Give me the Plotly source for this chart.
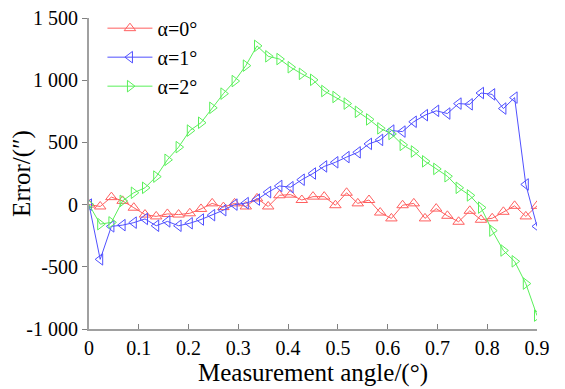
import plotly.graph_objects as go

x_vals = [round(i * 0.0225, 4) for i in range(41)]

err_a0 = [0, -15, 60, 30, -25, -80, -95, -75, -80, -70, -35, 10, -20, 10, -15, 50, -15, 75, 80, 37,
          64, 64, -5, 95, 10, 37, -64, -111, -5, 10, -111, -32, -90, -138, -50, -122, -110, -58, -10, -95, -10]
err_a1 = [0, -440, -175, -165, -145, -115, -170, -135, -170, -150, -120, -85, -45, 0, 12, 40, 100, 150, 140, 200,
          250, 307, 340, 382, 420, 488, 520, 595, 587, 666, 719, 754, 732, 812, 806, 897, 886, 772, 860, 162, -175]
err_a2 = [0, -157, -143, 30, 95, 135, 225, 360, 462, 595, 658, 778, 892, 993, 1117, 1276, 1192, 1170, 1104, 1051,
          1003, 913, 865, 812, 746, 685, 613, 568, 480, 427, 348, 287, 228, 135, 74, -24, -209, -369, -456, -635, -892]

names = ["α=0°", "α=1°", "α=2°"]
colors = ["rgb(255,95,95)", "rgb(80,80,255)", "rgb(90,240,90)"]
symbols = ["triangle-up-open", "triangle-left-open", "triangle-right-open"]

y_tickvals = [-1000, -500, 0, 500, 1000, 1500]
y_ticktext = ["-1 000", "-500", "0", "500", "1 000", "1 500"]
x_tickvals = [0, 0.1, 0.2, 0.3, 0.4, 0.5, 0.6, 0.7, 0.8, 0.9]
x_ticktext = ["0", "0.1", "0.2", "0.3", "0.4", "0.5", "0.6", "0.7", "0.8", "0.9"]

fig = go.Figure()
for name, ys, c, s in zip(names, [err_a0, err_a1, err_a2], colors, symbols):
    fig.add_trace(go.Scatter(
        x=x_vals, y=ys, name=name, mode="lines+markers",
        line=dict(color=c, width=1),
        marker=dict(symbol=s, size=10, color=c, line=dict(color=c, width=1)),
    ))

font_family = "Liberation Serif, Times New Roman, serif"
fig.update_layout(
    width=565, height=389,
    margin=dict(l=81, r=36, t=10, b=68, autoexpand=False),
    plot_bgcolor="white", paper_bgcolor="white",
    font=dict(family=font_family, size=20, color="black"),
    showlegend=True,
    legend=dict(x=0.03, y=1.03, xanchor="left", yanchor="top", itemwidth=45,
                bgcolor="rgba(0,0,0,0)", font=dict(size=20, family=font_family)),
    xaxis=dict(
        range=[0, 0.9], tickvals=x_tickvals, ticktext=x_ticktext, automargin=False,
        ticklabeloverflow="allow",
        showgrid=False, zeroline=False, showline=True, linecolor="#a0a0a0", linewidth=2,
        ticks="inside", ticklen=5, tickcolor="#808080",
        title=dict(text="Measurement angle/(°)", font=dict(size=25), standoff=2),
        tickfont=dict(size=20),
    ),
    yaxis=dict(
        range=[-1000, 1500], tickvals=y_tickvals, ticktext=y_ticktext, automargin=False,
        ticklabeloverflow="allow",
        showgrid=False, zeroline=False, showline=True, linecolor="#a0a0a0", linewidth=2,
        ticks="outside", ticklen=5, tickcolor="#808080",
        title=dict(text="Error/(″)", font=dict(size=25), standoff=2),
        tickfont=dict(size=20),
    ),
)

fig.write_html("out.html")
